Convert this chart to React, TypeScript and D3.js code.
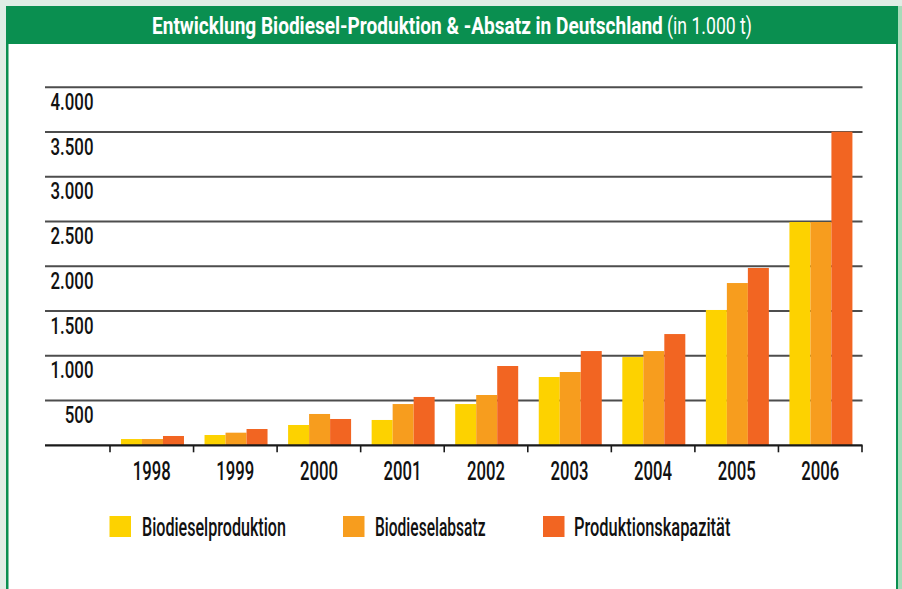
import React from "react";
import * as d3 from "d3";

const years = ["1998", "1999", "2000", "2001", "2002", "2003", "2004", "2005", "2006"];
const production = [70, 115, 227, 283, 461, 763, 986, 1512, 2495];
const sales = [70, 141, 350, 461, 562, 819, 1053, 1813, 2495];
const capacity = [104, 182, 294, 540, 886, 1053, 1243, 1981, 3504];
const seriesNames = ["Biodieselproduktion", "Biodieselabsatz", "Produktionskapazität"];
const seriesColors = ["#fdd200", "#f79d1e", "#f26522"];
const yTicks = [500, 1000, 1500, 2000, 2500, 3000, 3500, 4000];
const tickLabels = ["500", "1.000", "1.500", "2.000", "2.500", "3.000", "3.500", "4.000"];
const titleMain = "Entwicklung Biodiesel-Produktion & -Absatz in Deutschland";
const titleUnit = "(in 1.000 t)";

const FAMILY = "Roboto";
let ctx: CanvasRenderingContext2D | null = null;
function measure(text: string, size: number, weight: number) {
  if (!ctx) ctx = document.createElement("canvas").getContext("2d");
  if (!ctx) return text.length * size * 0.55;
  ctx.font = `${weight} ${size}px ${FAMILY}`;
  return ctx.measureText(text).width;
}

type NTProps = {
  x: number; y: number; text: string; size: number; weight: number;
  sx: number; anchor?: "start" | "middle" | "end"; fill?: string;
};
function NarrowText({ x, y, text, size, weight, sx, anchor = "start", fill = "#111" }: NTProps) {
  return (
    <text
      transform={`translate(${x},${y}) scale(${sx},1)`}
      x={0}
      y={0}
      textAnchor={anchor}
      fontFamily={FAMILY}
      fontSize={size}
      fontWeight={weight}
      fill={fill}
    >
      {text}
    </text>
  );
}

export default function App() {
  const W = 902, H = 589;
  const x = d3.scaleBand<string>().domain(years).range([110, 862]).padding(0);
  const groupW = x.bandwidth() * 0.754;
  const sub = d3.scaleBand<number>().domain([0, 1, 2]).range([0, groupW]).padding(0);
  const y = d3.scaleLinear().domain([0, 4000]).range([445.3, 87.3]);
  const series = [production, sales, capacity];

  const tickSize = 24, tickW = 500;
  const tickSx = 43 / measure("4.000", tickSize, tickW);
  const yearSize = 25;
  const yearSx = 38 / measure("1998", yearSize, tickW);
  const titleSize = 23;
  const titleSx = 511 / measure(titleMain, titleSize, 700);
  const unitSx = 85 / measure(titleUnit, titleSize, 400);
  const legSize = 25;
  const legX = [109.5, 343, 543];
  const legTextX = [142, 375, 574];
  const legTextW = [144, 110.5, 156.5];

  return (
    <svg width={W} height={H} style={{ position: "absolute", left: 0, top: 0 }}>
      <rect x={0} y={0} width={W} height={H} fill="#e0ede5" />
      <rect x={898} y={0} width={4} height={H} fill="#a6dcb9" />
      <rect x={898} y={0} width={4} height={6} fill="#e0ede5" />
      <rect x={6} y={6} width={892} height={H - 6} fill="#0a8f50" />
      <rect x={8.5} y={44} width={887.5} height={H - 44} fill="#ffffff" />
      <NarrowText x={152} y={34} text={titleMain} size={titleSize} weight={700} sx={titleSx} fill="#ffffff" />
      <NarrowText x={667} y={34} text={titleUnit} size={titleSize} weight={400} sx={unitSx} fill="#ffffff" />

      {yTicks.map((t) => (
        <line key={t} x1={45} x2={862.5} y1={y(t)} y2={y(t)} stroke="#4d4d4d" strokeWidth={2} />
      ))}
      {yTicks.map((t, i) => (
        <NarrowText key={"l" + t} x={93.5} y={y(t) + 22.5} text={tickLabels[i]} size={tickSize} weight={tickW} sx={tickSx} anchor="end" />
      ))}

      {years.map((yr, i) => {
        const gx = (x(yr) as number) + (x.bandwidth() - groupW) / 2 + 0.7;
        return series.map((s, k) => (
          <rect
            key={yr + k}
            x={gx + (sub(k) as number)}
            y={y(s[i])}
            width={sub.bandwidth()}
            height={y(0) - y(s[i])}
            fill={seriesColors[k]}
          />
        ));
      })}

      <line x1={45} x2={862.5} y1={y(0)} y2={y(0)} stroke="#1a1a1a" strokeWidth={2.2} />
      {[...years.map((yr) => x(yr) as number), 862].map((tx, i) => (
        <line key={"t" + i} x1={tx} x2={tx} y1={y(0)} y2={y(0) + 7} stroke="#1a1a1a" strokeWidth={1.6} />
      ))}
      {years.map((yr) => (
        <NarrowText key={"x" + yr} x={(x(yr) as number) + x.bandwidth() / 2} y={480} text={yr} size={yearSize} weight={tickW} sx={yearSx} anchor="middle" />
      ))}

      {seriesNames.map((n, k) => (
        <g key={n}>
          <rect x={legX[k]} y={516} width={21.5} height={21} fill={seriesColors[k]} />
          <NarrowText
            x={legTextX[k]}
            y={536}
            text={n}
            size={legSize}
            weight={tickW}
            sx={legTextW[k] / measure(n, legSize, tickW)}
          />
        </g>
      ))}
    </svg>
  );
}
